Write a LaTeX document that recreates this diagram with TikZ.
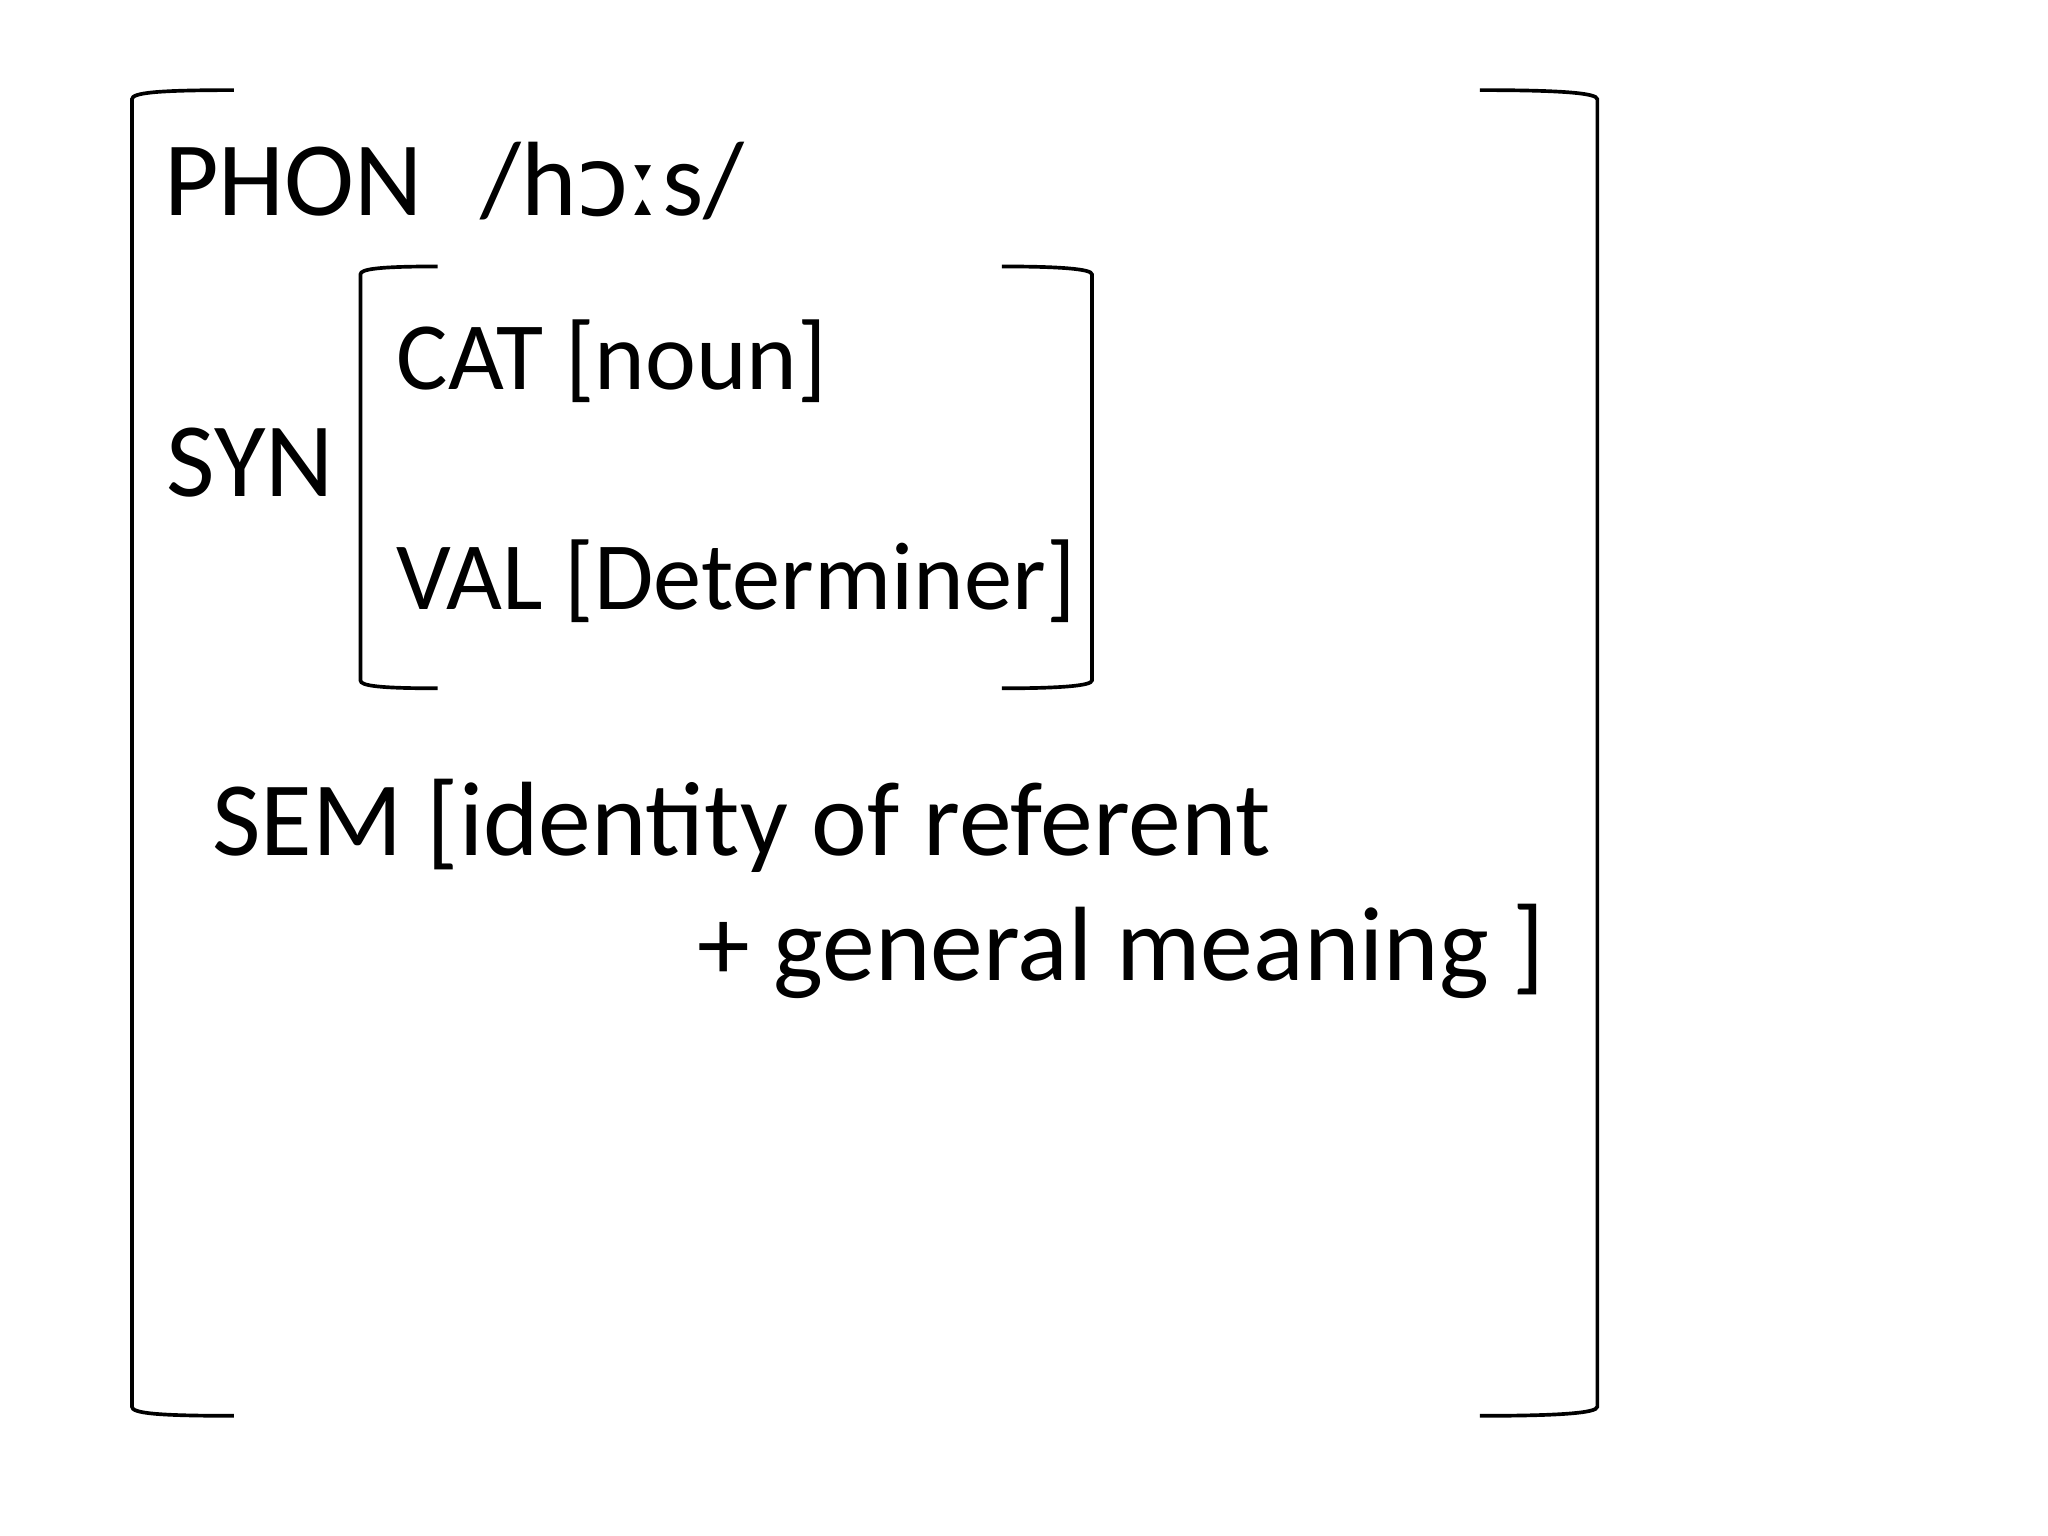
\documentclass[tikz,border=0pt]{standalone}
\usepackage{fontspec}
\setmainfont{Carlito}
\newfontfamily\ipafont{DejaVu Sans}
\begin{document}
\begin{tikzpicture}[x=0.01cm,y=-0.01cm,
  br/.style={draw=black,line width=0.8pt},
  big/.style={anchor=base west,inner sep=0pt,font=\fontsize{23}{28}\selectfont},
  mid/.style={anchor=base west,inner sep=0pt,font=\fontsize{21}{26}\selectfont}]
\useasboundingbox (0,0) rectangle (1568,1176);
% outer brackets
\draw[br] (179,69) .. controls (120,69) and (101,71) .. (101,76) -- (101,1077) .. controls (101,1082) and (120,1084) .. (179,1084);
\draw[br] (1133,69) .. controls (1192,69) and (1223,71) .. (1223,76) -- (1223,1077) .. controls (1223,1082) and (1192,1084) .. (1133,1084);
% inner brackets
\draw[br] (335,204) .. controls (290,204) and (276,206) .. (276,210) -- (276,521) .. controls (276,525) and (290,527) .. (335,527);
\draw[br] (767,204) .. controls (812,204) and (836,206) .. (836,210) -- (836,521) .. controls (836,525) and (812,527) .. (767,527);
\node[big] (phon) at (125,165) {PHON};
\node[big] (ipa) at (367,165) {/h{\ipafont\fontsize{21}{26}\selectfont ɔː}s/};
\node[big] (syn) at (127,380) {SYN};
\node[mid] (cat) at (303,298) {CAT [noun]};
\node[mid] (val) at (303,467) {VAL [Determiner]};
\node[big] (sem) at (162,655) {SEM [identity of referent};
\node[big] (gen) at (533,751) {+ general meaning ]};
\end{tikzpicture}
\end{document}
